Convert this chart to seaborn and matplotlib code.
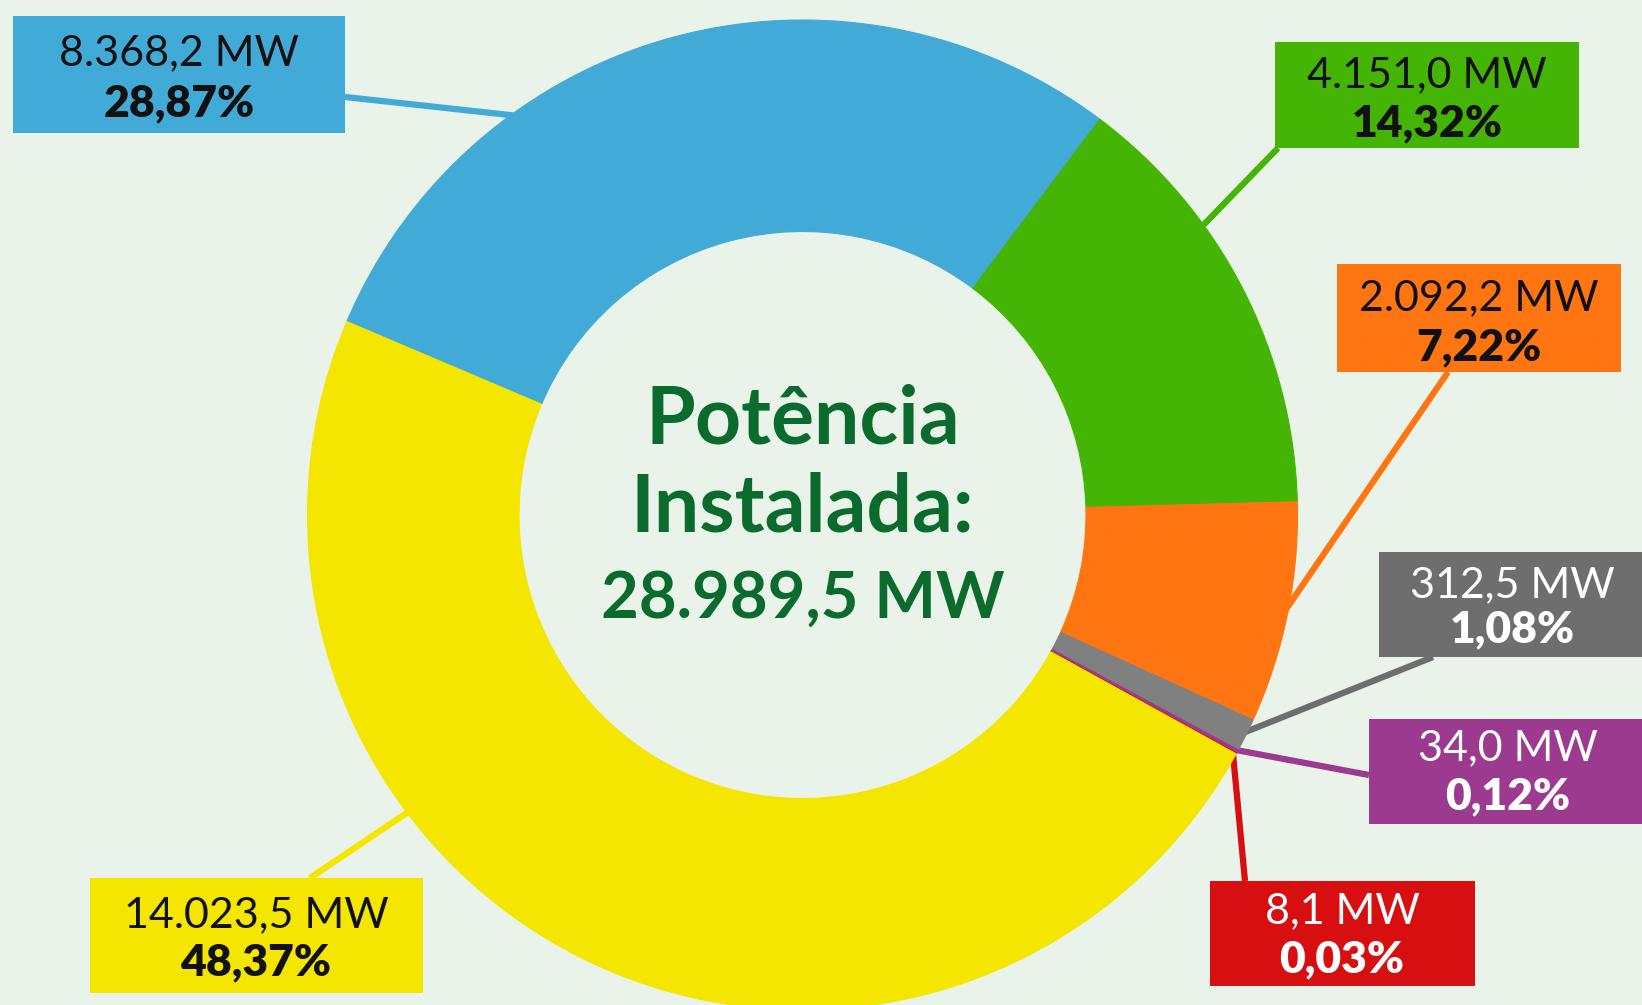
import numpy as np
import matplotlib
matplotlib.use("Agg")
import matplotlib.pyplot as plt
from matplotlib.patches import Rectangle
import seaborn as sns

# ---------------- data ----------------
sources = ["Hidráulica", "Eólica", "Biomassa", "Térmica fóssil", "Solar", "Outra", "Renováveis PCH"]
mw_values = [8368.2, 4151.0, 2092.2, 312.5, 34.0, 8.1, 14023.5]
mw_labels = ["8.368,2 MW", "4.151,0 MW", "2.092,2 MW", "312,5 MW", "34,0 MW", "8,1 MW", "14.023,5 MW"]
pct_labels = ["28,87%", "14,32%", "7,22%", "1,08%", "0,12%", "0,03%", "48,37%"]
center_lines = ["Potência", "Instalada:", "28.989,5 MW"]

wedge_colors = ["#42aad7", "#45b505", "#ff7511", "#808080", "#9b3a8f", "#d80f10", "#f5e600"]
box_colors = ["#42aad7", "#45b505", "#ff7511", "#6e6e6e", "#9b3a8f", "#d80f10", "#f5e600"]
text_colors = ["#111111", "#111111", "#111111", "#ffffff", "#ffffff", "#ffffff", "#111111"]

BG = "#eaf3e9"
DARK_GREEN = "#0b6b2d"

# ---------------- layout (pixel space, image y downwards) ----------------
W, H = 1642, 1005
CX, CY = 802.5, 515.0
R_OUT, R_IN = 495.0, 283.5

# box: (x0, y0, x1, y1), MW baseline, pct baseline, text centre x
boxes = [
    (13, 16, 345, 133, 65, 116, 179),
    (1275, 42, 1579, 148, 87, 136, 1427),
    (1337, 264, 1621, 372, 310, 360, 1479),
    (1379, 552, 1650, 657, 597, 642, 1512),
    (1369, 719, 1650, 824, 760, 809, 1508),
    (1210, 881, 1475, 986, 923, 972, 1342),
    (90, 878, 423, 993, 927, 975, 256),
]
# attach point on box, and anchor angle on ring (matplotlib degrees, None = wedge middle)
attach = [(345, 97), (1278, 148), (1448, 372), (1433, 657), (1369, 775), (1245, 881), (310, 878)]
anchor_angle = [125.6, 35.8, -11.5, None, None, None, 217.0]

def Y(y):
    return H - y

sns.set_theme(style="white")
plt.rcParams["font.family"] = ["Lato", "DejaVu Sans"]

fig = plt.figure(figsize=(W / 100, H / 100), dpi=100, facecolor=BG)
ax = fig.add_axes([0, 0, 1, 1])
ax.set_facecolor(BG)

wedges, _ = ax.pie(
    mw_values,
    colors=wedge_colors,
    startangle=157,
    counterclock=False,
    radius=R_OUT,
    center=(CX, Y(CY)),
    wedgeprops=dict(width=R_OUT - R_IN, linewidth=0.8),
)
for w in wedges:
    w.set_edgecolor(w.get_facecolor())
    w.set_zorder(3)

ax.set_xlim(0, W)
ax.set_ylim(0, H)
ax.set_aspect("equal")
ax.set_axis_off()

for i, w in enumerate(wedges):
    ang = anchor_angle[i]
    if ang is None:
        ang = (w.theta1 + w.theta2) / 2.0
    ex = CX + (R_OUT - 4) * np.cos(np.radians(ang))
    ey = Y(CY) + (R_OUT - 4) * np.sin(np.radians(ang))
    ax.plot([attach[i][0], ex], [Y(attach[i][1]), ey], color=box_colors[i],
            lw=4.5, solid_capstyle="butt", zorder=2)
    x0, y0, x1, y1, b1, b2, tx = boxes[i]
    ax.add_patch(Rectangle((x0, Y(y1)), x1 - x0, y1 - y0, facecolor=box_colors[i],
                           edgecolor="none", zorder=4))
    ax.text(tx, Y(b1), mw_labels[i], ha="center", va="baseline", fontsize=31,
            color=text_colors[i], zorder=5)
    ax.text(tx, Y(b2), pct_labels[i], ha="center", va="baseline", fontsize=32,
            fontweight="heavy", color=text_colors[i], zorder=5)

for txt, base, fs in zip(center_lines, [443, 531, 618], [58, 58, 47]):
    ax.text(CX, Y(base), txt, ha="center", va="baseline", fontsize=fs,
            fontweight="bold", color=DARK_GREEN, zorder=5)

fig.savefig("out.png", dpi=100, facecolor=BG)
